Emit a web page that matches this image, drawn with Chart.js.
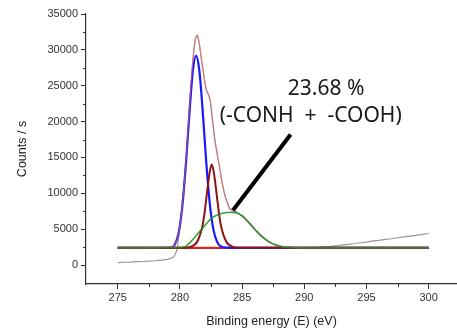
<!DOCTYPE html>
<html>
<head>
<meta charset="utf-8">
<script src="https://cdn.jsdelivr.net/npm/chart.js@4.4.1/dist/chart.umd.min.js"></script>
<style>
  html, body { margin: 0; padding: 0; background: #ffffff; }
  #wrap { width: 457px; height: 330px; }
</style>
</head>
<body>
<div id="wrap"><canvas id="c" width="457" height="330"></canvas></div>
<script>
// ---- data ----
const rawE = [275,275.5,276,276.5,277,277.5,278,278.5,279,279.3,279.5,279.65,279.8,280,280.2,280.5,280.8,281.05,281.25,281.4,281.55,281.8,282.1,282.3,282.45,282.6,282.8,283,283.2,283.4,283.6,283.8,284,284.2,284.5,284.8,285.1,285.4,285.7,286,286.4,286.8,287.2,287.6,288,288.5,289,289.5,290,290.5,291,291.5,292,292.5,293,293.5,294,294.5,295,295.5,296,296.5,297,297.5,298,298.5,299,299.5,300];
const rawC = [330,390,420,480,500,560,600,690,800,950,1150,1600,2300,5600,8400,14600,22900,28800,31600,32000,31000,27800,24500,23700,22800,20500,17600,15400,13600,11400,9800,8800,7800,7750,7450,7050,6850,6250,5750,5050,4400,3750,3200,2900,2650,2530,2470,2440,2410,2400,2440,2530,2580,2690,2770,2890,2970,3110,3210,3360,3440,3570,3670,3810,3920,4040,4140,4290,4400];

const envE = [275,279.3,279.6,279.9,280.2,280.5,280.8,281.05,281.25,281.4,281.55,281.8,282.1,282.3,282.45,282.6,282.8,283,283.2,283.4,283.6,283.8,284,284.3,284.8,285.3,285.9,286.5,287.1,287.7,288.4,289.2,290,300];
const envC = [2400,2460,2920,4530,8370,14720,22870,28700,31600,32050,30900,27900,24600,23800,22900,20500,17500,15500,13500,11500,9900,8700,7900,7450,7100,6350,5200,4100,3300,2800,2500,2420,2400,2400];

const blueE = [275,279.3,279.6,279.9,280.2,280.5,280.8,281.05,281.3,281.55,281.8,282.1,282.4,282.7,283,283.3,283.7,284.2,300];
const blueC = [2400,2450,2900,4500,8300,14500,22000,27200,29200,27300,22300,14800,8600,4900,3200,2600,2420,2400,2400];

const drE = [275,280.1,280.72,281.07,281.37,281.62,281.82,281.97,282.12,282.27,282.42,282.56,282.7,282.85,283,283.15,283.3,283.5,283.75,284.05,284.4,285,300];
const drC = [2400,2400,2450,2700,3200,4200,5500,7100,9200,11400,13200,14030,13200,11400,9200,7100,5500,4200,3200,2700,2450,2400,2400];

const grE = [275,279.8,280.4,281,281.5,282,282.6,283.2,283.8,284.3,284.8,285.3,285.9,286.5,287.1,287.7,288.4,289.2,290,300];
const grC = [2400,2420,2550,3500,4500,5500,6600,7100,7320,7350,7100,6350,5200,4100,3300,2800,2500,2420,2400,2400];

const baseE = [275,300];
const baseC = [2400,2400];

const arrowE = [288.9,284.27];
const arrowC = [18200,7640];

const annoText = ['23.68 %', '(-CONH  +  -COOH)'];
const annoE = [291.75, 290.52];
const annoC = [23710, 19900];

const xMajor = [275,280,285,290,295,300];
const xMinor = [277.5,282.5,287.5,292.5,297.5];
const yMajor = [0,5000,10000,15000,20000,25000,30000,35000];
const yMinor = [2500,7500,12500,17500,22500,27500,32500];

// ---- helpers ----
const pts = (xs, ys) => xs.map((x, i) => ({x: x, y: ys[i]}));
const axisColor = '#333333';

const minorTicks = {
  id: 'minorTicks',
  afterDraw(chart) {
    const ctx = chart.ctx;
    const xs = chart.scales.x, ys = chart.scales.y;
    ctx.save();
    ctx.strokeStyle = axisColor;
    ctx.lineWidth = 1;
    ctx.beginPath();
    xMinor.forEach(v => {
      const px = Math.round(xs.getPixelForValue(v)) + 0.5;
      ctx.moveTo(px, xs.top);
      ctx.lineTo(px, xs.top + 3);
    });
    yMinor.forEach(v => {
      const py = Math.round(ys.getPixelForValue(v)) + 0.5;
      ctx.moveTo(ys.right, py);
      ctx.lineTo(ys.right - 3, py);
    });
    ctx.stroke();
    ctx.restore();
  }
};

const annotation = {
  id: 'annotation',
  afterDatasetsDraw(chart) {
    const ctx = chart.ctx;
    const xs = chart.scales.x, ys = chart.scales.y;
    ctx.save();
    ctx.fillStyle = '#1a1a1a';
    ctx.font = '21px "Noto Sans", "Noto Sans CJK KR", sans-serif';
    ctx.textAlign = 'center';
    ctx.textBaseline = 'alphabetic';
    annoText.forEach((t, i) => {
      ctx.fillText(t, xs.getPixelForValue(annoE[i]), ys.getPixelForValue(annoC[i]));
    });
    ctx.restore();
  }
};

const tickFont = { family: 'Liberation Sans, Arial, sans-serif', size: 11 };

new Chart(document.getElementById('c'), {
  type: 'line',
  data: {
    datasets: [
      { label: 'arrow', data: pts(arrowE, arrowC), borderColor: '#000000', borderWidth: 4, borderCapStyle: 'butt', tension: 0, order: 0 },
      { label: 'peak 4', data: pts(grE, grC), borderColor: 'rgba(30,140,30,0.85)', borderWidth: 1.6, cubicInterpolationMode: 'monotone', order: 1 },
      { label: 'envelope', data: pts(envE, envC), borderColor: 'rgba(232,100,100,0.6)', borderWidth: 1.3, cubicInterpolationMode: 'monotone', order: 2 },
      { label: 'peak 2', data: pts(drE, drC), borderColor: 'rgb(140,20,20)', borderWidth: 2, cubicInterpolationMode: 'monotone', order: 3 },
      { label: 'peak 1', data: pts(blueE, blueC), borderColor: 'rgb(25,25,250)', borderWidth: 2.2, cubicInterpolationMode: 'monotone', order: 4 },
      { label: 'baseline', data: pts(baseE, baseC), borderColor: 'rgb(210,40,40)', borderWidth: 2.4, tension: 0, order: 5 },
      { label: 'raw', data: pts(rawE, rawC), borderColor: 'rgb(150,150,150)', borderWidth: 1.2, tension: 0, order: 6 }
    ]
  },
  options: {
    responsive: false,
    animation: false,
    devicePixelRatio: 1,
    elements: { point: { radius: 0, hoverRadius: 0 }, line: { fill: false } },
    layout: { padding: { left: 0, top: 14, right: 0, bottom: 0 } },
    plugins: { legend: { display: false }, tooltip: { enabled: false } },
    events: [],
    scales: {
      x: {
        type: 'linear',
        min: 272.45,
        max: 302.28,
        afterFit(scale) { scale.height = 46; },
        afterBuildTicks(scale) { scale.ticks = xMajor.map(v => ({ value: v })); },
        ticks: { color: axisColor, font: tickFont, padding: 2, maxRotation: 0, autoSkip: false,
                 callback: v => String(v) },
        grid: { drawOnChartArea: false, drawTicks: true, tickLength: 5, tickColor: axisColor, tickWidth: 1 },
        border: { display: true, color: axisColor, width: 1.2 },
        title: { display: true, text: 'Binding energy (E) (eV)', color: '#222222',
                 font: { family: 'Liberation Sans, Arial, sans-serif', size: 12.5 }, padding: { top: 0, bottom: 1 } }
      },
      y: {
        type: 'linear',
        min: -2640,
        max: 35000,
        afterFit(scale) { scale.width = 86; },
        afterBuildTicks(scale) { scale.ticks = yMajor.map(v => ({ value: v })); },
        ticks: { color: axisColor, font: tickFont, padding: 3, autoSkip: false,
                 callback: v => String(v) },
        grid: { drawOnChartArea: false, drawTicks: true, tickLength: 5, tickColor: axisColor, tickWidth: 1 },
        border: { display: true, color: axisColor, width: 1.2 },
        title: { display: true, text: 'Counts / s', color: '#222222',
                 font: { family: 'Liberation Sans, Arial, sans-serif', size: 12.5 }, padding: { top: 15, bottom: 0 } }
      }
    }
  },
  plugins: [minorTicks, annotation]
});
</script>
</body>
</html>
